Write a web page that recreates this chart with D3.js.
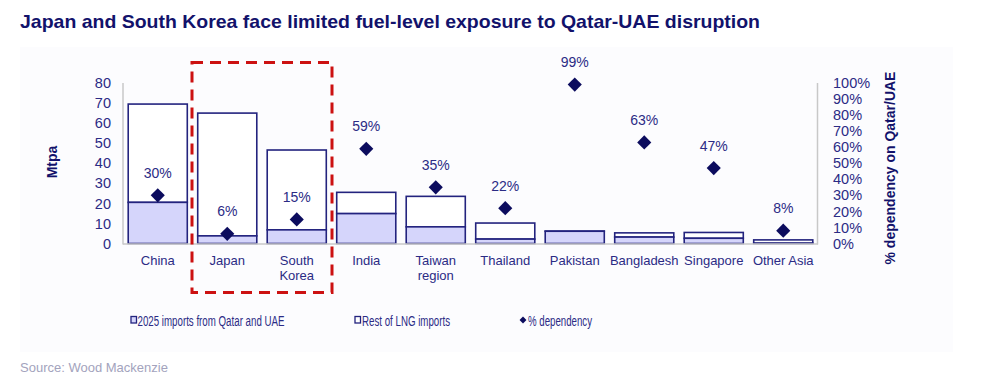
<!DOCTYPE html>
<html><head><meta charset="utf-8">
<script src="https://cdn.jsdelivr.net/npm/d3@7/dist/d3.min.js"></script>
<style>
html,body{margin:0;padding:0;background:#fff;}
svg{display:block;font-family:Arial,"Liberation Sans",sans-serif;}
</style></head>
<body><svg id="chart" width="1006" height="388"></svg>
<script>
const categories = ["China","Japan","South Korea","India","Taiwan region","Thailand","Pakistan","Bangladesh","Singapore","Other Asia"];
const categoryLines = [["China"],["Japan"],["South","Korea"],["India"],["Taiwan","region"],["Thailand"],["Pakistan"],["Bangladesh"],["Singapore"],["Other Asia"]];
const qatarUaeImports = [20.5, 3.8, 6.8, 14.9, 8.3, 2.2, 6.1, 3.2, 2.6, 0.15];
const restOfLngImports = [49.0, 61.2, 39.8, 10.6, 15.2, 8.0, 0.1, 2.1, 2.9, 1.65];
const dependencyPct = [30, 6, 15, 59, 35, 22, 99, 63, 47, 8];
const leftTicks = [0,10,20,30,40,50,60,70,80];
const rightTicks = [0,10,20,30,40,50,60,70,80,90,100];
const legendLabels = ["2025 imports from Qatar and UAE","Rest of LNG imports","% dependency"];

const navy = "#23237e", dark = "#0c0c5e", lav = "#d5d5fb", textC = "#2b2b85";
const svg = d3.select("#chart");

// background panel
svg.append("rect").attr("x",20).attr("y",47).attr("width",933).attr("height",305).attr("fill","#fcfcfe");

// title
svg.append("text").attr("x",20).attr("y",28).attr("font-size",19).attr("font-weight","bold")
  .attr("fill","#12126b").attr("textLength",740).attr("lengthAdjust","spacingAndGlyphs")
  .text("Japan and South Korea face limited fuel-level exposure to Qatar-UAE disruption");

const x = d3.scaleBand().domain(categories).range([123,818]).paddingInner(0.15).paddingOuter(0.075);
const y = d3.scaleLinear().domain([0,80]).range([243.5,83]);
const yr = d3.scaleLinear().domain([0,100]).range([243.5,83]);

// axis lines
svg.append("line").attr("x1",123).attr("x2",123).attr("y1",y(80)).attr("y2",y(0)+1).attr("stroke","#c8c8c8").attr("stroke-width",1.5);
svg.append("line").attr("x1",817.5).attr("x2",817.5).attr("y1",y(80)).attr("y2",y(0)+1).attr("stroke","#c8c8c8").attr("stroke-width",1.5);

// left axis labels
const lAxis = d3.axisLeft(y).tickValues(leftTicks).tickSize(0).tickPadding(12);
const gl = svg.append("g").attr("transform","translate(123,0)").call(lAxis);
gl.select(".domain").remove();
gl.selectAll("text").attr("font-size",14.5).attr("fill",textC).attr("font-family","Arial,'Liberation Sans',sans-serif");

const rAxis = d3.axisRight(yr).tickValues(rightTicks).tickSize(0).tickPadding(15).tickFormat(d=>d+"%");
const gr = svg.append("g").attr("transform","translate(818,0)").call(rAxis);
gr.select(".domain").remove();
gr.selectAll("text").attr("font-size",14.5).attr("fill",textC).attr("font-family","Arial,'Liberation Sans',sans-serif");

// axis titles
svg.append("text").attr("transform","translate(57,162) rotate(-90)").attr("text-anchor","middle")
  .attr("font-size",14).attr("font-weight","bold").attr("fill","#12126b").text("Mtpa");
svg.append("text").attr("transform","translate(895,168) rotate(-90)").attr("text-anchor","middle")
  .attr("font-size",14).attr("font-weight","bold").attr("fill","#12126b").text("% dependency on Qatar/UAE");

// bars
const bw = x.bandwidth();
categories.forEach((c,i)=>{
  const q = qatarUaeImports[i], r = restOfLngImports[i];
  svg.append("rect").attr("x",x(c)).attr("y",y(q+r)).attr("width",bw).attr("height",y(q)-y(q+r))
    .attr("fill","#ffffff").attr("stroke",navy).attr("stroke-width",1.6);
  svg.append("rect").attr("x",x(c)).attr("y",y(q)).attr("width",bw).attr("height",y(0)-y(q))
    .attr("fill",lav).attr("stroke",navy).attr("stroke-width",1.6);
});

// bottom axis line
svg.append("line").attr("x1",123).attr("x2",818).attr("y1",y(0)+0.5).attr("y2",y(0)+0.5).attr("stroke","#c8c8c8").attr("stroke-width",1.5);

// category labels
categories.forEach((c,i)=>{
  const t = svg.append("text").attr("x",x(c)+bw/2).attr("y",265).attr("text-anchor","middle")
    .attr("font-size",13).attr("fill",textC);
  categoryLines[i].forEach((ln,j)=>{
    t.append("tspan").attr("x",x(c)+bw/2).attr("dy", j===0?0:14.5).text(ln);
  });
});

// diamonds + labels
categories.forEach((c,i)=>{
  const cx = x(c)+bw/2, cy = yr(dependencyPct[i]);
  svg.append("path").attr("d",d3.symbol().type(d3.symbolSquare).size(100)())
    .attr("transform",`translate(${cx},${cy}) rotate(45)`).attr("fill",dark);
  svg.append("text").attr("x",cx).attr("y",cy-17.5).attr("text-anchor","middle")
    .attr("font-size",14).attr("fill",textC).text(dependencyPct[i]+"%");
});

// red dashed box
svg.append("rect").attr("x",192).attr("y",62.5).attr("width",140).attr("height",230)
  .attr("fill","none").attr("stroke","#cc1111").attr("stroke-width",3).attr("stroke-dasharray","11,7");

// legend
const ly = 320;
const legItems = [
  {mx:131, tx:137.5, w:147, type:"sq", fill:lav},
  {mx:355, tx:362, w:88, type:"sq", fill:"#fff"},
  {mx:520, tx:528, w:64, type:"dia"}
];
legItems.forEach((it,i)=>{
  if(it.type==="sq"){
    svg.append("rect").attr("x",it.mx).attr("y",ly-3.5).attr("width",5.5).attr("height",6.5)
      .attr("fill",it.fill).attr("stroke",navy).attr("stroke-width",1.3);
  } else {
    svg.append("path").attr("d",d3.symbol().type(d3.symbolSquare).size(24)())
      .attr("transform",`translate(${it.mx+3},${ly}) rotate(45)`).attr("fill",dark);
  }
  svg.append("text").attr("x",it.tx).attr("y",ly+5.5).attr("font-size",15.5).attr("fill",textC)
    .attr("textLength",it.w).attr("lengthAdjust","spacingAndGlyphs").text(legendLabels[i]);
});

// source
svg.append("text").attr("x",20).attr("y",372).attr("font-size",13).attr("fill","#a3a3bd").text("Source: Wood Mackenzie");
</script></body></html>
